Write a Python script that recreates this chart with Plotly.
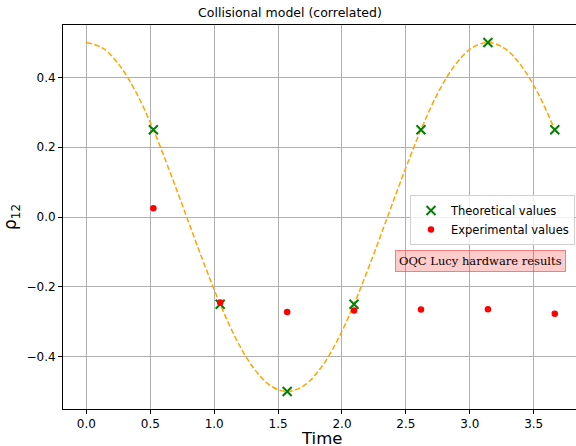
import plotly.graph_objects as go

# Theoretical curve
curve_t = [0.0, 0.131, 0.262, 0.393, 0.524, 0.654, 0.785, 0.916, 1.047, 1.178, 1.309, 1.440,
           1.571, 1.702, 1.833, 1.963, 2.094, 2.225, 2.356, 2.487, 2.618, 2.749, 2.880, 3.011,
           3.142, 3.272, 3.403, 3.534, 3.665]
curve_v = [0.5, 0.483, 0.433, 0.354, 0.25, 0.129, 0.0, -0.129, -0.25, -0.354, -0.433, -0.483,
           -0.5, -0.483, -0.433, -0.354, -0.25, -0.129, 0.0, 0.129, 0.25, 0.354, 0.433, 0.483,
           0.5, 0.483, 0.433, 0.354, 0.25]

times = [0.524, 1.047, 1.571, 2.094, 2.618, 3.142, 3.665]
theoretical = [0.25, -0.25, -0.5, -0.25, 0.25, 0.5, 0.25]
experimental = [0.025, -0.245, -0.272, -0.268, -0.265, -0.264, -0.277]

x_ticks = [0.0, 0.5, 1.0, 1.5, 2.0, 2.5, 3.0, 3.5]
y_ticks = [-0.4, -0.2, 0.0, 0.2, 0.4]

fig = go.Figure()
fig.add_trace(go.Scatter(x=curve_t, y=curve_v, mode="lines", line_shape="spline",
                         line=dict(color="#FFA500", width=1.5, dash="5.5px,2.5px"),
                         showlegend=False, hoverinfo="skip"))
fig.add_trace(go.Scatter(x=times, y=theoretical, mode="markers", name="Theoretical values",
                         marker=dict(symbol="x-thin", size=9, color="green",
                                     line=dict(color="green", width=2))))
fig.add_trace(go.Scatter(x=times, y=experimental, mode="markers", name="Experimental values",
                         marker=dict(symbol="circle", size=6.5, color="red")))

axis_common = dict(showline=True, linecolor="black", linewidth=1, mirror=True,
                   ticks="outside", ticklen=4, tickcolor="black", tickwidth=1,
                   showgrid=True, gridcolor="#b0b0b0", gridwidth=0.8, zeroline=False,
                   automargin=False,
                   tickfont=dict(family="DejaVu Sans", size=12, color="black"))

fig.update_xaxes(range=[-0.183, 3.831], tickvals=x_ticks,
                 ticktext=[f"{v:.1f}" for v in x_ticks],
                 **axis_common)
fig.update_yaxes(range=[-0.55, 0.55], tickvals=y_ticks,
                 ticktext=[("\u2212" if v < 0 else "") + f"{abs(v):.1f}" for v in y_ticks],
                 title=dict(text="\u03c1<sub>12</sub>", font=dict(family="DejaVu Sans", size=17, color="black"),
                            standoff=8),
                 **axis_common)

# x-axis title
fig.add_annotation(xref="paper", yref="paper", x=(321 - 63) / 513, y=(409 - 438) / 384,
                   xanchor="center", yanchor="middle", text="Time", showarrow=False,
                   height=17, valign="middle",
                   font=dict(family="DejaVu Sans", size=16.5, color="black"))

fig.add_annotation(xref="paper", yref="paper", x=(480 - 63) / 513, y=(409 - 261) / 384,
                   xanchor="center", yanchor="middle",
                   text="OQC Lucy hardware results", showarrow=False,
                   font=dict(family="DejaVu Serif", size=11.5, color="black"),
                   bgcolor="rgba(255,0,0,0.2)", bordercolor="rgba(235,70,70,0.65)",
                   borderwidth=1, borderpad=3)

fig.update_layout(
    width=576, height=446,
    margin=dict(l=63, r=0, t=25, b=37, autoexpand=False),
    plot_bgcolor="white", paper_bgcolor="white",
    title=dict(text="Collisional model (correlated)", x=290 / 576, xanchor="center",
               y=1 - 13 / 446, yanchor="middle",
               font=dict(family="DejaVu Sans", size=12.5, color="black")),
    legend=dict(x=0.998, xanchor="right", y=(409 - 195) / 384, yanchor="top",
                bgcolor="rgba(255,255,255,0.8)", bordercolor="#d0d0d0", borderwidth=1,
                font=dict(family="DejaVu Sans", size=11.5, color="black"),
                itemwidth=30, tracegroupgap=0),
    font=dict(family="DejaVu Sans"),
)

fig.write_html("out.html", config={"displayModeBar": False},
               post_script="document.body.style.margin='0';document.body.style.overflow='hidden';")
